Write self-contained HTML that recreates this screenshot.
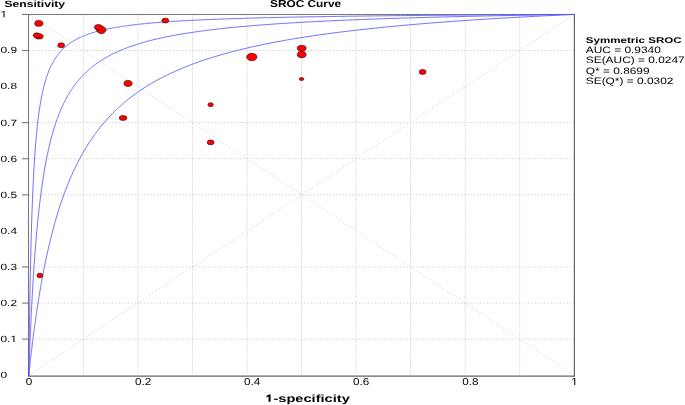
<!DOCTYPE html>
<html><head><meta charset="utf-8"><style>
html,body{margin:0;padding:0;background:#fff;}
svg{display:block;font-family:"Liberation Sans",sans-serif;filter:blur(0.3px);text-rendering:geometricPrecision;}
.gh{stroke:#d4d4d4;stroke-width:0.9;stroke-dasharray:1.6 1.6;}
.gv{stroke:#d2d2d2;stroke-width:1;stroke-dasharray:1.1 1.1;}
.dg{stroke:#dadada;stroke-width:0.9;stroke-dasharray:2 2;}
.cv{fill:none;stroke:#5656ff;stroke-width:1;}
.ax{stroke:#7a7a7a;stroke-width:1.1;}
.ax2{stroke:#666;stroke-width:1.2;}
.pt{fill:#ff0000;stroke:#200;stroke-width:0.6;}
</style></head><body>
<svg width="685" height="405" viewBox="0 0 685 405">
<rect width="685" height="405" fill="#fff"/>
<line x1="28.83" y1="339.11" x2="574.28" y2="339.11" class="gh"/>
<line x1="28.83" y1="303.04" x2="574.28" y2="303.04" class="gh"/>
<line x1="28.83" y1="266.96" x2="574.28" y2="266.96" class="gh"/>
<line x1="28.83" y1="194.81" x2="574.28" y2="194.81" class="gh"/>
<line x1="28.83" y1="158.73" x2="574.28" y2="158.73" class="gh"/>
<line x1="28.83" y1="122.66" x2="574.28" y2="122.66" class="gh"/>
<line x1="28.83" y1="50.51" x2="574.28" y2="50.51" class="gh"/>
<line x1="83.38" y1="14.43" x2="83.38" y2="375.19" class="gv"/>
<line x1="137.92" y1="14.43" x2="137.92" y2="375.19" class="gv"/>
<line x1="192.46" y1="14.43" x2="192.46" y2="375.19" class="gv"/>
<line x1="247.01" y1="14.43" x2="247.01" y2="375.19" class="gv"/>
<line x1="301.55" y1="14.43" x2="301.55" y2="375.19" class="gv"/>
<line x1="356.10" y1="14.43" x2="356.10" y2="375.19" class="gv"/>
<line x1="410.64" y1="14.43" x2="410.64" y2="375.19" class="gv"/>
<line x1="465.19" y1="14.43" x2="465.19" y2="375.19" class="gv"/>
<line x1="519.74" y1="14.43" x2="519.74" y2="375.19" class="gv"/>
<line x1="28.83" y1="375.19" x2="574.28" y2="14.43" class="dg"/>
<line x1="28.83" y1="14.43" x2="574.28" y2="375.19" class="dg"/>
<line x1="22" y1="14.5" x2="575" y2="14.5" class="ax"/>
<line x1="28.5" y1="14" x2="28.5" y2="376.3" class="ax"/>
<line x1="574.4" y1="14" x2="574.4" y2="376.5" class="ax2"/>
<line x1="28" y1="376.05" x2="575" y2="376.05" class="ax2"/>
<line x1="22" y1="339.11" x2="28.5" y2="339.11" class="ax"/>
<line x1="22" y1="303.04" x2="28.5" y2="303.04" class="ax"/>
<line x1="22" y1="266.96" x2="28.5" y2="266.96" class="ax"/>
<line x1="22" y1="194.81" x2="28.5" y2="194.81" class="ax"/>
<line x1="22" y1="158.73" x2="28.5" y2="158.73" class="ax"/>
<line x1="22" y1="122.66" x2="28.5" y2="122.66" class="ax"/>
<line x1="22" y1="50.51" x2="28.5" y2="50.51" class="ax"/>
<line x1="22" y1="14.43" x2="28.5" y2="14.43" class="ax"/>
<g transform="scale(1,0.72)">
<path d="M28.83,521.10 L28.83,521.10 L28.83,521.09 L28.83,521.08 L28.83,521.06 L28.83,521.03 L28.83,520.98 L28.83,520.90 L28.83,520.81 L28.83,520.69 L28.83,520.53 L28.84,520.35 L28.84,520.12 L28.84,519.86 L28.84,519.55 L28.84,519.19 L28.85,518.79 L28.85,518.33 L28.86,517.82 L28.86,517.25 L28.86,516.61 L28.87,515.91 L28.88,515.14 L28.88,514.30 L28.89,513.39 L28.90,512.41 L28.91,511.34 L28.92,510.20 L28.93,508.97 L28.94,507.66 L28.95,506.27 L28.96,504.78 L28.97,503.21 L28.99,501.55 L29.00,499.79 L29.02,497.95 L29.03,496.01 L29.05,493.97 L29.07,491.85 L29.09,489.62 L29.11,487.31 L29.13,484.89 L29.15,482.39 L29.18,479.79 L29.20,477.10 L29.23,474.31 L29.25,471.44 L29.28,468.47 L29.31,465.42 L29.34,462.28 L29.38,459.06 L29.41,455.75 L29.44,452.37 L29.48,448.90 L29.52,445.36 L29.56,441.75 L29.60,438.07 L29.64,434.32 L29.68,430.51 L29.73,426.63 L29.77,422.70 L29.82,418.71 L29.87,414.67 L29.92,410.59 L29.97,406.45 L30.03,402.28 L30.08,398.07 L30.14,393.82 L30.20,389.55 L30.26,385.24 L30.33,380.92 L30.39,376.57 L30.46,372.20 L30.53,367.82 L30.60,363.43 L30.67,359.03 L30.75,354.63 L30.82,350.23 L30.90,345.83 L30.98,341.43 L31.06,337.04 L31.15,332.66 L31.24,328.29 L31.33,323.94 L31.42,319.61 L31.51,315.30 L31.61,311.01 L31.70,306.74 L31.80,302.51 L31.91,298.30 L32.01,294.12 L32.12,289.97 L32.23,285.86 L32.34,281.78 L32.45,277.74 L32.57,273.74 L32.69,269.78 L32.81,265.86 L32.94,261.98 L33.06,258.14 L33.19,254.34 L33.33,250.59 L33.46,246.89 L33.60,243.23 L33.74,239.61 L33.88,236.05 L34.03,232.53 L34.18,229.05 L34.33,225.63 L34.48,222.25 L34.64,218.92 L34.80,215.64 L34.96,212.40 L35.13,209.22 L35.29,206.08 L35.47,202.99 L35.64,199.94 L35.82,196.95 L36.00,194.00 L36.18,191.10 L36.37,188.24 L36.56,185.43 L36.75,182.67 L36.95,179.95 L37.15,177.28 L37.35,174.65 L37.56,172.06 L37.77,169.52 L37.98,167.02 L38.20,164.57 L38.42,162.16 L38.64,159.79 L38.87,157.46 L39.10,155.17 L39.33,152.92 L39.57,150.71 L39.81,148.54 L40.05,146.41 L40.30,144.31 L40.55,142.26 L40.80,140.24 L41.06,138.25 L41.32,136.31 L41.59,134.39 L41.86,132.51 L42.13,130.67 L42.41,128.86 L42.69,127.08 L42.98,125.33 L43.26,123.62 L43.56,121.93 L43.85,120.28 L44.15,118.66 L44.46,117.06 L44.77,115.50 L45.08,113.96 L45.40,112.45 L45.72,110.97 L46.04,109.52 L46.37,108.09 L46.70,106.69 L47.04,105.31 L47.38,103.96 L47.73,102.63 L48.08,101.33 L48.43,100.05 L48.79,98.79 L49.15,97.56 L49.52,96.35 L49.89,95.16 L50.27,93.99 L50.65,92.84 L51.03,91.72 L51.42,90.61 L51.82,89.52 L52.22,88.45 L52.62,87.41 L53.03,86.38 L53.44,85.36 L53.86,84.37 L54.28,83.39 L54.71,82.44 L55.14,81.49 L55.57,80.57 L56.01,79.66 L56.46,78.77 L56.91,77.89 L57.36,77.02 L57.82,76.18 L58.29,75.34 L58.76,74.53 L59.24,73.72 L59.72,72.93 L60.20,72.15 L60.69,71.39 L61.19,70.64 L61.69,69.90 L62.19,69.18 L62.70,68.47 L63.22,67.76 L63.74,67.08 L64.27,66.40 L64.80,65.73 L65.33,65.08 L65.88,64.43 L66.42,63.80 L66.98,63.18 L67.53,62.57 L68.10,61.96 L68.67,61.37 L69.24,60.79 L69.82,60.22 L70.41,59.65 L71.00,59.10 L71.59,58.55 L72.20,58.02 L72.81,57.49 L73.42,56.97 L74.04,56.46 L74.66,55.96 L75.29,55.46 L75.93,54.98 L76.57,54.50 L77.22,54.03 L77.87,53.56 L78.53,53.11 L79.20,52.66 L79.87,52.21 L80.55,51.78 L81.23,51.35 L81.92,50.93 L82.62,50.51 L83.32,50.10 L84.03,49.70 L84.74,49.30 L85.46,48.91 L86.19,48.53 L86.92,48.15 L87.66,47.78 L88.40,47.41 L89.15,47.05 L89.91,46.69 L90.67,46.34 L91.44,45.99 L92.22,45.65 L93.00,45.32 L93.79,44.99 L94.59,44.66 L95.39,44.34 L96.20,44.02 L97.01,43.71 L97.83,43.41 L98.66,43.10 L99.50,42.80 L100.34,42.51 L101.18,42.22 L102.04,41.94 L102.90,41.65 L103.77,41.38 L104.64,41.10 L105.52,40.83 L106.41,40.57 L107.31,40.31 L108.21,40.05 L109.12,39.79 L110.03,39.54 L110.96,39.29 L111.89,39.05 L112.82,38.81 L113.77,38.57 L114.72,38.34 L115.68,38.11 L116.64,37.88 L117.61,37.66 L118.59,37.43 L119.58,37.22 L120.57,37.00 L121.57,36.79 L122.58,36.58 L123.60,36.37 L124.62,36.17 L125.65,35.96 L126.69,35.77 L127.73,35.57 L128.78,35.38 L129.84,35.19 L130.91,35.00 L131.99,34.81 L133.07,34.63 L134.16,34.45 L135.25,34.27 L136.36,34.09 L137.47,33.92 L138.59,33.74 L139.72,33.57 L140.85,33.41 L142.00,33.24 L143.15,33.08 L144.31,32.92 L145.47,32.76 L146.65,32.60 L147.83,32.45 L149.02,32.29 L150.22,32.14 L151.42,31.99 L152.64,31.84 L153.86,31.70 L155.09,31.55 L156.33,31.41 L157.57,31.27 L158.83,31.13 L160.09,31.00 L161.36,30.86 L162.64,30.73 L163.92,30.60 L165.22,30.47 L166.52,30.34 L167.83,30.21 L169.15,30.08 L170.48,29.96 L171.82,29.84 L173.16,29.71 L174.51,29.60 L175.88,29.48 L177.25,29.36 L178.62,29.24 L180.01,29.13 L181.41,29.02 L182.81,28.91 L184.22,28.79 L185.64,28.69 L187.07,28.58 L188.51,28.47 L189.96,28.37 L191.42,28.26 L192.88,28.16 L194.35,28.06 L195.84,27.96 L197.33,27.86 L198.83,27.76 L200.34,27.66 L201.85,27.57 L203.38,27.47 L204.92,27.38 L206.46,27.28 L208.02,27.19 L209.58,27.10 L211.15,27.01 L212.73,26.92 L214.32,26.84 L215.92,26.75 L217.53,26.66 L219.14,26.58 L220.77,26.49 L222.41,26.41 L224.05,26.33 L225.71,26.25 L227.37,26.17 L229.04,26.09 L230.73,26.01 L232.42,25.93 L234.12,25.85 L235.83,25.78 L237.55,25.70 L239.28,25.63 L241.02,25.55 L242.77,25.48 L244.53,25.41 L246.29,25.34 L248.07,25.27 L249.86,25.20 L251.66,25.13 L253.46,25.06 L255.28,24.99 L257.11,24.92 L258.94,24.86 L260.79,24.79 L262.64,24.73 L264.51,24.66 L266.38,24.60 L268.27,24.54 L270.16,24.47 L272.07,24.41 L273.99,24.35 L275.91,24.29 L277.85,24.23 L279.79,24.17 L281.75,24.11 L283.71,24.06 L285.69,24.00 L287.67,23.94 L289.67,23.88 L291.68,23.83 L293.69,23.77 L295.72,23.72 L297.76,23.66 L299.81,23.61 L301.86,23.56 L303.93,23.51 L306.01,23.45 L308.10,23.40 L310.20,23.35 L312.31,23.30 L314.43,23.25 L316.56,23.20 L318.70,23.15 L320.86,23.10 L323.02,23.05 L325.19,23.01 L327.38,22.96 L329.57,22.91 L331.78,22.87 L334.00,22.82 L336.22,22.78 L338.46,22.73 L340.71,22.69 L342.97,22.64 L345.24,22.60 L347.52,22.55 L349.82,22.51 L352.12,22.47 L354.44,22.43 L356.76,22.38 L359.10,22.34 L361.45,22.30 L363.80,22.26 L366.17,22.22 L368.56,22.18 L370.95,22.14 L373.35,22.10 L375.77,22.06 L378.19,22.03 L380.63,21.99 L383.08,21.95 L385.54,21.91 L388.01,21.88 L390.49,21.84 L392.99,21.80 L395.49,21.77 L398.01,21.73 L400.54,21.70 L403.08,21.66 L405.63,21.63 L408.19,21.59 L410.77,21.56 L413.36,21.52 L415.95,21.49 L418.56,21.46 L421.18,21.42 L423.82,21.39 L426.46,21.36 L429.12,21.33 L431.79,21.29 L434.47,21.26 L437.16,21.23 L439.87,21.20 L442.58,21.17 L445.31,21.14 L448.05,21.11 L450.80,21.08 L453.57,21.05 L456.34,21.02 L459.13,20.99 L461.93,20.96 L464.74,20.93 L467.57,20.90 L470.40,20.88 L473.25,20.85 L476.11,20.82 L478.99,20.79 L481.87,20.76 L484.77,20.74 L487.68,20.71 L490.60,20.68 L493.54,20.66 L496.49,20.63 L499.45,20.61 L502.42,20.58 L505.40,20.55 L508.40,20.53 L511.41,20.50 L514.43,20.48 L517.47,20.45 L520.51,20.43 L523.57,20.41 L526.65,20.38 L529.73,20.36 L532.83,20.33 L535.94,20.31 L539.07,20.29 L542.20,20.26 L545.35,20.24 L548.52,20.22 L551.69,20.19 L554.88,20.17 L558.08,20.15 L561.29,20.13 L564.52,20.11 L567.76,20.08 L571.01,20.06 L574.28,20.04" class="cv"/>
<path d="M28.83,521.10 L28.83,521.10 L28.83,521.10 L28.83,521.09 L28.83,521.09 L28.83,521.07 L28.83,521.06 L28.83,521.04 L28.83,521.01 L28.83,520.97 L28.83,520.92 L28.84,520.86 L28.84,520.79 L28.84,520.70 L28.84,520.61 L28.84,520.49 L28.85,520.36 L28.85,520.22 L28.86,520.05 L28.86,519.87 L28.86,519.67 L28.87,519.44 L28.88,519.20 L28.88,518.93 L28.89,518.63 L28.90,518.31 L28.91,517.97 L28.92,517.59 L28.93,517.19 L28.94,516.76 L28.95,516.30 L28.96,515.81 L28.97,515.29 L28.99,514.74 L29.00,514.15 L29.02,513.53 L29.03,512.87 L29.05,512.18 L29.07,511.45 L29.09,510.68 L29.11,509.88 L29.13,509.04 L29.15,508.16 L29.18,507.24 L29.20,506.28 L29.23,505.27 L29.25,504.23 L29.28,503.15 L29.31,502.02 L29.34,500.85 L29.38,499.64 L29.41,498.38 L29.44,497.08 L29.48,495.74 L29.52,494.35 L29.56,492.92 L29.60,491.45 L29.64,489.93 L29.68,488.37 L29.73,486.76 L29.77,485.11 L29.82,483.42 L29.87,481.68 L29.92,479.90 L29.97,478.07 L30.03,476.20 L30.08,474.29 L30.14,472.33 L30.20,470.34 L30.26,468.30 L30.33,466.22 L30.39,464.10 L30.46,461.94 L30.53,459.74 L30.60,457.50 L30.67,455.22 L30.75,452.91 L30.82,450.55 L30.90,448.17 L30.98,445.74 L31.06,443.28 L31.15,440.79 L31.24,438.27 L31.33,435.71 L31.42,433.12 L31.51,430.51 L31.61,427.86 L31.70,425.19 L31.80,422.48 L31.91,419.76 L32.01,417.00 L32.12,414.23 L32.23,411.43 L32.34,408.60 L32.45,405.76 L32.57,402.90 L32.69,400.02 L32.81,397.12 L32.94,394.21 L33.06,391.28 L33.19,388.33 L33.33,385.37 L33.46,382.40 L33.60,379.42 L33.74,376.43 L33.88,373.43 L34.03,370.43 L34.18,367.41 L34.33,364.39 L34.48,361.37 L34.64,358.34 L34.80,355.31 L34.96,352.28 L35.13,349.25 L35.29,346.21 L35.47,343.18 L35.64,340.15 L35.82,337.13 L36.00,334.11 L36.18,331.09 L36.37,328.08 L36.56,325.07 L36.75,322.08 L36.95,319.09 L37.15,316.11 L37.35,313.14 L37.56,310.17 L37.77,307.22 L37.98,304.29 L38.20,301.36 L38.42,298.45 L38.64,295.55 L38.87,292.66 L39.10,289.79 L39.33,286.94 L39.57,284.10 L39.81,281.28 L40.05,278.47 L40.30,275.68 L40.55,272.91 L40.80,270.16 L41.06,267.42 L41.32,264.70 L41.59,262.01 L41.86,259.33 L42.13,256.67 L42.41,254.03 L42.69,251.41 L42.98,248.82 L43.26,246.24 L43.56,243.68 L43.85,241.15 L44.15,238.64 L44.46,236.15 L44.77,233.68 L45.08,231.23 L45.40,228.80 L45.72,226.40 L46.04,224.01 L46.37,221.65 L46.70,219.32 L47.04,217.00 L47.38,214.71 L47.73,212.44 L48.08,210.19 L48.43,207.96 L48.79,205.76 L49.15,203.58 L49.52,201.42 L49.89,199.28 L50.27,197.17 L50.65,195.07 L51.03,193.00 L51.42,190.96 L51.82,188.93 L52.22,186.93 L52.62,184.94 L53.03,182.98 L53.44,181.04 L53.86,179.12 L54.28,177.23 L54.71,175.35 L55.14,173.50 L55.57,171.67 L56.01,169.85 L56.46,168.06 L56.91,166.29 L57.36,164.54 L57.82,162.81 L58.29,161.10 L58.76,159.41 L59.24,157.74 L59.72,156.09 L60.20,154.45 L60.69,152.84 L61.19,151.25 L61.69,149.67 L62.19,148.12 L62.70,146.58 L63.22,145.06 L63.74,143.56 L64.27,142.08 L64.80,140.61 L65.33,139.17 L65.88,137.74 L66.42,136.33 L66.98,134.93 L67.53,133.55 L68.10,132.19 L68.67,130.85 L69.24,129.52 L69.82,128.21 L70.41,126.91 L71.00,125.63 L71.59,124.37 L72.20,123.12 L72.81,121.88 L73.42,120.67 L74.04,119.46 L74.66,118.27 L75.29,117.10 L75.93,115.94 L76.57,114.80 L77.22,113.67 L77.87,112.55 L78.53,111.45 L79.20,110.36 L79.87,109.28 L80.55,108.22 L81.23,107.17 L81.92,106.13 L82.62,105.11 L83.32,104.10 L84.03,103.10 L84.74,102.11 L85.46,101.14 L86.19,100.17 L86.92,99.22 L87.66,98.28 L88.40,97.36 L89.15,96.44 L89.91,95.54 L90.67,94.64 L91.44,93.76 L92.22,92.89 L93.00,92.03 L93.79,91.18 L94.59,90.34 L95.39,89.51 L96.20,88.69 L97.01,87.88 L97.83,87.08 L98.66,86.29 L99.50,85.51 L100.34,84.74 L101.18,83.98 L102.04,83.23 L102.90,82.49 L103.77,81.75 L104.64,81.03 L105.52,80.31 L106.41,79.60 L107.31,78.90 L108.21,78.21 L109.12,77.53 L110.03,76.86 L110.96,76.19 L111.89,75.53 L112.82,74.88 L113.77,74.24 L114.72,73.61 L115.68,72.98 L116.64,72.36 L117.61,71.75 L118.59,71.14 L119.58,70.54 L120.57,69.95 L121.57,69.37 L122.58,68.79 L123.60,68.22 L124.62,67.66 L125.65,67.10 L126.69,66.55 L127.73,66.01 L128.78,65.47 L129.84,64.94 L130.91,64.41 L131.99,63.90 L133.07,63.38 L134.16,62.88 L135.25,62.37 L136.36,61.88 L137.47,61.39 L138.59,60.91 L139.72,60.43 L140.85,59.96 L142.00,59.49 L143.15,59.03 L144.31,58.57 L145.47,58.12 L146.65,57.67 L147.83,57.23 L149.02,56.79 L150.22,56.36 L151.42,55.93 L152.64,55.51 L153.86,55.10 L155.09,54.68 L156.33,54.28 L157.57,53.87 L158.83,53.47 L160.09,53.08 L161.36,52.69 L162.64,52.30 L163.92,51.92 L165.22,51.55 L166.52,51.17 L167.83,50.80 L169.15,50.44 L170.48,50.08 L171.82,49.72 L173.16,49.37 L174.51,49.02 L175.88,48.68 L177.25,48.33 L178.62,48.00 L180.01,47.66 L181.41,47.33 L182.81,47.01 L184.22,46.68 L185.64,46.36 L187.07,46.05 L188.51,45.73 L189.96,45.42 L191.42,45.12 L192.88,44.81 L194.35,44.51 L195.84,44.22 L197.33,43.92 L198.83,43.63 L200.34,43.34 L201.85,43.06 L203.38,42.78 L204.92,42.50 L206.46,42.22 L208.02,41.95 L209.58,41.68 L211.15,41.41 L212.73,41.15 L214.32,40.89 L215.92,40.63 L217.53,40.37 L219.14,40.12 L220.77,39.87 L222.41,39.62 L224.05,39.37 L225.71,39.13 L227.37,38.89 L229.04,38.65 L230.73,38.42 L232.42,38.18 L234.12,37.95 L235.83,37.72 L237.55,37.50 L239.28,37.27 L241.02,37.05 L242.77,36.83 L244.53,36.61 L246.29,36.40 L248.07,36.18 L249.86,35.97 L251.66,35.76 L253.46,35.55 L255.28,35.35 L257.11,35.15 L258.94,34.95 L260.79,34.75 L262.64,34.55 L264.51,34.35 L266.38,34.16 L268.27,33.97 L270.16,33.78 L272.07,33.59 L273.99,33.41 L275.91,33.22 L277.85,33.04 L279.79,32.86 L281.75,32.68 L283.71,32.50 L285.69,32.33 L287.67,32.15 L289.67,31.98 L291.68,31.81 L293.69,31.64 L295.72,31.47 L297.76,31.31 L299.81,31.14 L301.86,30.98 L303.93,30.82 L306.01,30.66 L308.10,30.50 L310.20,30.35 L312.31,30.19 L314.43,30.04 L316.56,29.88 L318.70,29.73 L320.86,29.58 L323.02,29.44 L325.19,29.29 L327.38,29.14 L329.57,29.00 L331.78,28.86 L334.00,28.71 L336.22,28.57 L338.46,28.44 L340.71,28.30 L342.97,28.16 L345.24,28.03 L347.52,27.89 L349.82,27.76 L352.12,27.63 L354.44,27.50 L356.76,27.37 L359.10,27.24 L361.45,27.11 L363.80,26.99 L366.17,26.86 L368.56,26.74 L370.95,26.62 L373.35,26.49 L375.77,26.37 L378.19,26.25 L380.63,26.14 L383.08,26.02 L385.54,25.90 L388.01,25.79 L390.49,25.67 L392.99,25.56 L395.49,25.45 L398.01,25.34 L400.54,25.23 L403.08,25.12 L405.63,25.01 L408.19,24.90 L410.77,24.79 L413.36,24.69 L415.95,24.58 L418.56,24.48 L421.18,24.38 L423.82,24.28 L426.46,24.17 L429.12,24.07 L431.79,23.97 L434.47,23.88 L437.16,23.78 L439.87,23.68 L442.58,23.58 L445.31,23.49 L448.05,23.39 L450.80,23.30 L453.57,23.21 L456.34,23.11 L459.13,23.02 L461.93,22.93 L464.74,22.84 L467.57,22.75 L470.40,22.66 L473.25,22.58 L476.11,22.49 L478.99,22.40 L481.87,22.32 L484.77,22.23 L487.68,22.15 L490.60,22.06 L493.54,21.98 L496.49,21.90 L499.45,21.82 L502.42,21.74 L505.40,21.66 L508.40,21.58 L511.41,21.50 L514.43,21.42 L517.47,21.34 L520.51,21.26 L523.57,21.19 L526.65,21.11 L529.73,21.04 L532.83,20.96 L535.94,20.89 L539.07,20.81 L542.20,20.74 L545.35,20.67 L548.52,20.60 L551.69,20.53 L554.88,20.45 L558.08,20.38 L561.29,20.31 L564.52,20.25 L567.76,20.18 L571.01,20.11 L574.28,20.04" class="cv"/>
<path d="M28.83,521.10 L28.83,521.10 L28.83,521.10 L28.83,521.10 L28.83,521.09 L28.83,521.09 L28.83,521.08 L28.83,521.08 L28.83,521.07 L28.83,521.05 L28.83,521.04 L28.84,521.02 L28.84,521.00 L28.84,520.97 L28.84,520.94 L28.84,520.90 L28.85,520.86 L28.85,520.81 L28.86,520.76 L28.86,520.70 L28.86,520.63 L28.87,520.56 L28.88,520.48 L28.88,520.39 L28.89,520.29 L28.90,520.19 L28.91,520.07 L28.92,519.95 L28.93,519.82 L28.94,519.68 L28.95,519.52 L28.96,519.36 L28.97,519.19 L28.99,519.00 L29.00,518.81 L29.02,518.60 L29.03,518.38 L29.05,518.15 L29.07,517.91 L29.09,517.65 L29.11,517.38 L29.13,517.10 L29.15,516.80 L29.18,516.49 L29.20,516.16 L29.23,515.82 L29.25,515.47 L29.28,515.10 L29.31,514.71 L29.34,514.31 L29.38,513.89 L29.41,513.45 L29.44,513.00 L29.48,512.53 L29.52,512.05 L29.56,511.54 L29.60,511.02 L29.64,510.48 L29.68,509.93 L29.73,509.35 L29.77,508.76 L29.82,508.15 L29.87,507.52 L29.92,506.87 L29.97,506.20 L30.03,505.51 L30.08,504.80 L30.14,504.07 L30.20,503.32 L30.26,502.55 L30.33,501.76 L30.39,500.96 L30.46,500.13 L30.53,499.28 L30.60,498.41 L30.67,497.51 L30.75,496.60 L30.82,495.67 L30.90,494.71 L30.98,493.74 L31.06,492.74 L31.15,491.72 L31.24,490.68 L31.33,489.62 L31.42,488.54 L31.51,487.44 L31.61,486.32 L31.70,485.17 L31.80,484.00 L31.91,482.82 L32.01,481.61 L32.12,480.38 L32.23,479.12 L32.34,477.85 L32.45,476.56 L32.57,475.24 L32.69,473.91 L32.81,472.55 L32.94,471.18 L33.06,469.78 L33.19,468.36 L33.33,466.93 L33.46,465.47 L33.60,463.99 L33.74,462.50 L33.88,460.98 L34.03,459.45 L34.18,457.89 L34.33,456.32 L34.48,454.73 L34.64,453.12 L34.80,451.49 L34.96,449.84 L35.13,448.18 L35.29,446.49 L35.47,444.79 L35.64,443.08 L35.82,441.34 L36.00,439.59 L36.18,437.83 L36.37,436.05 L36.56,434.25 L36.75,432.43 L36.95,430.61 L37.15,428.76 L37.35,426.90 L37.56,425.03 L37.77,423.15 L37.98,421.25 L38.20,419.34 L38.42,417.41 L38.64,415.47 L38.87,413.52 L39.10,411.56 L39.33,409.59 L39.57,407.60 L39.81,405.61 L40.05,403.60 L40.30,401.59 L40.55,399.56 L40.80,397.52 L41.06,395.48 L41.32,393.43 L41.59,391.37 L41.86,389.30 L42.13,387.22 L42.41,385.14 L42.69,383.05 L42.98,380.95 L43.26,378.84 L43.56,376.73 L43.85,374.62 L44.15,372.50 L44.46,370.37 L44.77,368.24 L45.08,366.11 L45.40,363.97 L45.72,361.83 L46.04,359.69 L46.37,357.54 L46.70,355.39 L47.04,353.24 L47.38,351.09 L47.73,348.94 L48.08,346.78 L48.43,344.63 L48.79,342.47 L49.15,340.31 L49.52,338.16 L49.89,336.00 L50.27,333.85 L50.65,331.69 L51.03,329.54 L51.42,327.39 L51.82,325.24 L52.22,323.10 L52.62,320.95 L53.03,318.81 L53.44,316.67 L53.86,314.54 L54.28,312.41 L54.71,310.28 L55.14,308.16 L55.57,306.04 L56.01,303.93 L56.46,301.82 L56.91,299.72 L57.36,297.62 L57.82,295.52 L58.29,293.44 L58.76,291.36 L59.24,289.28 L59.72,287.21 L60.20,285.15 L60.69,283.09 L61.19,281.04 L61.69,279.00 L62.19,276.97 L62.70,274.94 L63.22,272.92 L63.74,270.91 L64.27,268.91 L64.80,266.91 L65.33,264.93 L65.88,262.95 L66.42,260.98 L66.98,259.02 L67.53,257.06 L68.10,255.12 L68.67,253.18 L69.24,251.26 L69.82,249.34 L70.41,247.43 L71.00,245.54 L71.59,243.65 L72.20,241.77 L72.81,239.90 L73.42,238.04 L74.04,236.19 L74.66,234.35 L75.29,232.52 L75.93,230.70 L76.57,228.90 L77.22,227.10 L77.87,225.31 L78.53,223.53 L79.20,221.76 L79.87,220.01 L80.55,218.26 L81.23,216.52 L81.92,214.80 L82.62,213.08 L83.32,211.38 L84.03,209.68 L84.74,208.00 L85.46,206.33 L86.19,204.67 L86.92,203.02 L87.66,201.38 L88.40,199.75 L89.15,198.13 L89.91,196.52 L90.67,194.92 L91.44,193.34 L92.22,191.76 L93.00,190.20 L93.79,188.64 L94.59,187.10 L95.39,185.57 L96.20,184.04 L97.01,182.53 L97.83,181.03 L98.66,179.54 L99.50,178.06 L100.34,176.60 L101.18,175.14 L102.04,173.69 L102.90,172.25 L103.77,170.83 L104.64,169.41 L105.52,168.01 L106.41,166.61 L107.31,165.23 L108.21,163.85 L109.12,162.49 L110.03,161.14 L110.96,159.79 L111.89,158.46 L112.82,157.14 L113.77,155.83 L114.72,154.52 L115.68,153.23 L116.64,151.95 L117.61,150.67 L118.59,149.41 L119.58,148.16 L120.57,146.92 L121.57,145.68 L122.58,144.46 L123.60,143.25 L124.62,142.04 L125.65,140.85 L126.69,139.66 L127.73,138.49 L128.78,137.32 L129.84,136.16 L130.91,135.01 L131.99,133.88 L133.07,132.75 L134.16,131.63 L135.25,130.51 L136.36,129.41 L137.47,128.32 L138.59,127.23 L139.72,126.16 L140.85,125.09 L142.00,124.03 L143.15,122.98 L144.31,121.94 L145.47,120.91 L146.65,119.89 L147.83,118.87 L149.02,117.86 L150.22,116.86 L151.42,115.87 L152.64,114.89 L153.86,113.92 L155.09,112.95 L156.33,111.99 L157.57,111.04 L158.83,110.10 L160.09,109.17 L161.36,108.24 L162.64,107.32 L163.92,106.41 L165.22,105.50 L166.52,104.61 L167.83,103.72 L169.15,102.84 L170.48,101.96 L171.82,101.10 L173.16,100.24 L174.51,99.38 L175.88,98.54 L177.25,97.70 L178.62,96.87 L180.01,96.04 L181.41,95.23 L182.81,94.42 L184.22,93.61 L185.64,92.82 L187.07,92.03 L188.51,91.24 L189.96,90.46 L191.42,89.69 L192.88,88.93 L194.35,88.17 L195.84,87.42 L197.33,86.68 L198.83,85.94 L200.34,85.20 L201.85,84.48 L203.38,83.76 L204.92,83.04 L206.46,82.33 L208.02,81.63 L209.58,80.93 L211.15,80.24 L212.73,79.56 L214.32,78.88 L215.92,78.21 L217.53,77.54 L219.14,76.88 L220.77,76.22 L222.41,75.57 L224.05,74.92 L225.71,74.28 L227.37,73.65 L229.04,73.02 L230.73,72.39 L232.42,71.77 L234.12,71.16 L235.83,70.55 L237.55,69.95 L239.28,69.35 L241.02,68.75 L242.77,68.16 L244.53,67.58 L246.29,67.00 L248.07,66.42 L249.86,65.85 L251.66,65.29 L253.46,64.73 L255.28,64.17 L257.11,63.62 L258.94,63.08 L260.79,62.53 L262.64,62.00 L264.51,61.46 L266.38,60.93 L268.27,60.41 L270.16,59.89 L272.07,59.37 L273.99,58.86 L275.91,58.35 L277.85,57.85 L279.79,57.35 L281.75,56.86 L283.71,56.37 L285.69,55.88 L287.67,55.40 L289.67,54.92 L291.68,54.44 L293.69,53.97 L295.72,53.50 L297.76,53.04 L299.81,52.58 L301.86,52.12 L303.93,51.67 L306.01,51.22 L308.10,50.78 L310.20,50.34 L312.31,49.90 L314.43,49.46 L316.56,49.03 L318.70,48.60 L320.86,48.18 L323.02,47.76 L325.19,47.34 L327.38,46.93 L329.57,46.52 L331.78,46.11 L334.00,45.71 L336.22,45.31 L338.46,44.91 L340.71,44.51 L342.97,44.12 L345.24,43.73 L347.52,43.35 L349.82,42.97 L352.12,42.59 L354.44,42.21 L356.76,41.84 L359.10,41.47 L361.45,41.10 L363.80,40.74 L366.17,40.37 L368.56,40.02 L370.95,39.66 L373.35,39.31 L375.77,38.96 L378.19,38.61 L380.63,38.26 L383.08,37.92 L385.54,37.58 L388.01,37.25 L390.49,36.91 L392.99,36.58 L395.49,36.25 L398.01,35.92 L400.54,35.60 L403.08,35.28 L405.63,34.96 L408.19,34.64 L410.77,34.33 L413.36,34.02 L415.95,33.71 L418.56,33.40 L421.18,33.10 L423.82,32.79 L426.46,32.50 L429.12,32.20 L431.79,31.90 L434.47,31.61 L437.16,31.32 L439.87,31.03 L442.58,30.74 L445.31,30.46 L448.05,30.18 L450.80,29.90 L453.57,29.62 L456.34,29.34 L459.13,29.07 L461.93,28.80 L464.74,28.53 L467.57,28.26 L470.40,27.99 L473.25,27.73 L476.11,27.47 L478.99,27.21 L481.87,26.95 L484.77,26.70 L487.68,26.44 L490.60,26.19 L493.54,25.94 L496.49,25.69 L499.45,25.45 L502.42,25.20 L505.40,24.96 L508.40,24.72 L511.41,24.48 L514.43,24.24 L517.47,24.00 L520.51,23.77 L523.57,23.54 L526.65,23.31 L529.73,23.08 L532.83,22.85 L535.94,22.63 L539.07,22.40 L542.20,22.18 L545.35,21.96 L548.52,21.74 L551.69,21.52 L554.88,21.31 L558.08,21.09 L561.29,20.88 L564.52,20.67 L567.76,20.46 L571.01,20.25 L574.28,20.04" class="cv"/>
</g>
<ellipse cx="38.8" cy="23.4" rx="4.10" ry="2.95" class="pt"/>
<ellipse cx="39.0" cy="36.4" rx="4.15" ry="2.65" class="pt"/>
<ellipse cx="36.7" cy="35.3" rx="3.45" ry="2.50" class="pt"/>
<ellipse cx="61.2" cy="45.3" rx="3.45" ry="2.50" class="pt"/>
<ellipse cx="101.3" cy="30.0" rx="4.70" ry="3.65" class="pt"/>
<ellipse cx="98.4" cy="27.3" rx="3.95" ry="2.80" class="pt"/>
<ellipse cx="165.3" cy="20.6" rx="3.50" ry="2.45" class="pt"/>
<ellipse cx="128.0" cy="83.4" rx="4.05" ry="3.00" class="pt"/>
<ellipse cx="123.05" cy="118.0" rx="3.85" ry="2.45" class="pt"/>
<ellipse cx="210.6" cy="104.7" rx="2.70" ry="2.05" class="pt"/>
<ellipse cx="210.6" cy="142.4" rx="3.45" ry="2.45" class="pt"/>
<ellipse cx="251.8" cy="57.0" rx="5.15" ry="3.75" class="pt"/>
<ellipse cx="301.7" cy="48.3" rx="4.40" ry="3.05" class="pt"/>
<ellipse cx="301.7" cy="54.6" rx="4.40" ry="3.15" class="pt"/>
<ellipse cx="301.5" cy="79.0" rx="2.35" ry="1.55" class="pt"/>
<ellipse cx="422.6" cy="71.9" rx="3.45" ry="2.50" class="pt"/>
<ellipse cx="39.9" cy="275.5" rx="2.90" ry="2.30" class="pt"/>
<text transform="translate(0.50,378.09) scale(1.0000,0.76000)" font-size="11.90" font-weight="normal" fill="#000">0</text>
<text transform="translate(0.50,342.01) scale(1.0000,0.76000)" font-size="11.90" font-weight="normal" fill="#000">0.</text>
<path transform="translate(10.42,342.01) scale(0.00581,-0.00442)" d="M515,0 L515,1237 L197,1010 L197,1180 L530,1409 L696,1409 L696,0 Z" fill="#000"/>
<text transform="translate(0.50,305.94) scale(1.0000,0.76000)" font-size="11.90" font-weight="normal" fill="#000">0.2</text>
<text transform="translate(0.50,269.86) scale(1.0000,0.76000)" font-size="11.90" font-weight="normal" fill="#000">0.3</text>
<text transform="translate(0.50,233.79) scale(1.0000,0.76000)" font-size="11.90" font-weight="normal" fill="#000">0.4</text>
<text transform="translate(0.50,197.71) scale(1.0000,0.76000)" font-size="11.90" font-weight="normal" fill="#000">0.5</text>
<text transform="translate(0.50,161.63) scale(1.0000,0.76000)" font-size="11.90" font-weight="normal" fill="#000">0.6</text>
<text transform="translate(0.50,125.56) scale(1.0000,0.76000)" font-size="11.90" font-weight="normal" fill="#000">0.7</text>
<text transform="translate(0.50,89.48) scale(1.0000,0.76000)" font-size="11.90" font-weight="normal" fill="#000">0.8</text>
<text transform="translate(0.50,53.41) scale(1.0000,0.76000)" font-size="11.90" font-weight="normal" fill="#000">0.9</text>
<path transform="translate(0.50,17.33) scale(0.00581,-0.00442)" d="M515,0 L515,1237 L197,1010 L197,1180 L530,1409 L696,1409 L696,0 Z" fill="#000"/>
<text transform="translate(25.83,384.90) scale(1.0000,0.86000)" font-size="11.70" font-weight="normal" fill="#000">0</text>
<text transform="translate(134.92,384.90) scale(1.0000,0.86000)" font-size="11.70" font-weight="normal" fill="#000">0.2</text>
<text transform="translate(244.01,384.90) scale(1.0000,0.86000)" font-size="11.70" font-weight="normal" fill="#000">0.4</text>
<text transform="translate(353.10,384.90) scale(1.0000,0.86000)" font-size="11.70" font-weight="normal" fill="#000">0.6</text>
<text transform="translate(462.19,384.90) scale(1.0000,0.86000)" font-size="11.70" font-weight="normal" fill="#000">0.8</text>
<path transform="translate(571.28,384.90) scale(0.00571,-0.00491)" d="M515,0 L515,1237 L197,1010 L197,1180 L530,1409 L696,1409 L696,0 Z" fill="#000"/>
<text transform="translate(4.40,6.70) scale(1.0000,0.75000)" font-size="12.15" font-weight="bold" fill="#000">Sensitivity</text>
<text transform="translate(270.00,6.50) scale(1.0000,0.85000)" font-size="11.85" font-weight="bold" fill="#000">SROC Curve</text>
<path transform="translate(265.30,401.80) scale(0.00714,-0.00514)" d="M457,0 L457,1046 L158,855 L158,1141 L486,1409 L739,1409 L739,0 Z" fill="#000"/>
<text transform="translate(273.43,401.80) scale(1.0000,0.72000)" font-size="14.62" font-weight="bold" fill="#000">-specificity</text>
<text transform="translate(585.70,43.30) scale(1.0000,0.72000)" font-size="11.60" font-weight="bold" fill="#000">Symmetric SROC</text>
<text transform="translate(585.80,53.30) scale(1.0000,0.78000)" font-size="11.90" font-weight="normal" fill="#000">AUC = 0.9340</text>
<text transform="translate(585.80,62.60) scale(1.0000,0.78000)" font-size="11.90" font-weight="normal" fill="#000">SE(AUC) = 0.0247</text>
<text transform="translate(585.80,74.20) scale(1.0000,0.78000)" font-size="11.90" font-weight="normal" fill="#000">Q* = 0.8699</text>
<text transform="translate(585.80,84.00) scale(1.0000,0.78000)" font-size="11.90" font-weight="normal" fill="#000">SE(Q*) = 0.0302</text>
</svg>
</body></html>
